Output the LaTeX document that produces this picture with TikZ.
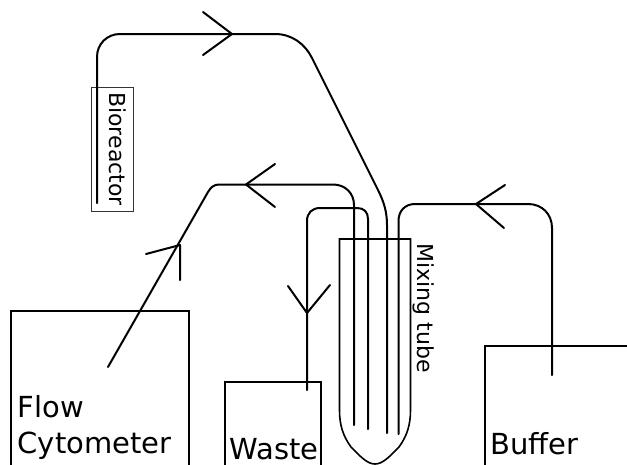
\documentclass[tikz,border=0pt]{standalone}
\usepackage{fontspec}
\setmainfont{DejaVu Sans}
\begin{document}
\begin{tikzpicture}[x=1pt,y=-1pt,
  pipe/.style={line width=2pt,line cap=round,line join=round},
  vessel/.style={draw,line width=1.6pt,minimum width=#1,inner sep=0pt,outer sep=0pt},
  lab/.style={font=\fontsize{29pt}{34pt}\selectfont,inner sep=0pt,anchor=base west},
  vlab/.style={font=\fontsize{22pt}{26pt}\selectfont,inner sep=0pt,rotate=-90}]
\useasboundingbox (0,0) rectangle (627,464);
\clip (0,0) rectangle (627,464);
\fill[white] (0,0) rectangle (627,464);
% vessels
\node[vessel=178pt,minimum height=190pt,anchor=north west] (cyto) at (11,311) {};
\node[vessel=96pt,minimum height=120pt,anchor=north west] (waste) at (225,382) {};
\node[vessel=180pt,minimum height=150pt,anchor=north west] (buffer) at (485,346) {};
\node[draw=black!80,line width=1pt,minimum width=42pt,minimum height=124pt,inner sep=0pt,anchor=north west] (bio) at (91,87) {};
\node[vlab] (biotext) at (118,149) {Bioreactor};
\node[vlab] (mixtext) at (424,308) {Mixing tube};
\node[lab] (flow) at (17.5,417) {Flow};
\node[lab] (cytotext) at (17.5,453) {Cytometer};
\node[lab] (wastetext) at (229.5,459.5) {Waste};
\node[lab] (buffertext) at (490,454) {Buffer};
% mixing tube
\coordinate (tl) at (339.5,239);
\coordinate (tr) at (410.5,239);
\coordinate (tip) at (375,464);
\draw[line width=1.6pt,line join=miter] (tip) .. controls (367,464) and (360,456) .. (351,447)
  .. controls (343,436) and (339.5,425) .. (339.5,410) -- (tl) -- (tr) -- (410.5,410)
  .. controls (410.5,425) and (407,436) .. (399,447) .. controls (390,456) and (383,464) .. (tip);
% line from bioreactor
\coordinate (a0) at (97,203);
\coordinate (a2) at (275,34);
\coordinate (a3) at (312,58);
\coordinate (a4) at (378,190);
\coordinate (a5) at (387,433);
\draw[pipe] (a0) -- (97,57) .. controls (97,44) and (107,34) .. (120,34) -- (a2)
  .. controls (292,34) and (305,44) .. (a3) -- (a4)
  .. controls (384,202) and (387,212) .. (387,225) -- (a5);
% line to cytometer
\coordinate (b0) at (354,425);
\coordinate (b1) at (108,367);
\draw[pipe] (b0) -- (354,205) .. controls (354,193) and (345,184.5) .. (333,184.5) -- (219,184.5)
  .. controls (214,184.5) and (211,187) .. (208,192) -- (b1);
% line to waste
\coordinate (c0) at (368,429);
\coordinate (c1) at (307,390);
\draw[pipe] (c0) -- (368,219) .. controls (368,212) and (364,208) .. (357,208) -- (320,208)
  .. controls (312,208) and (307,213) .. (307,221) -- (c1);
% line from buffer
\coordinate (d0) at (552,375);
\coordinate (d1) at (398.5,434);
\draw[pipe] (d0) -- (552,228) .. controls (552,214) and (542,204) .. (528,204) -- (415,204)
  .. controls (405,204) and (398.5,211) .. (398.5,221) -- (d1);
% barbs
\coordinate (h1) at (232,34);
\draw[pipe] (203,12) -- (h1) -- (203,55);
\coordinate (h2) at (246,184.5);
\draw[pipe] (275,164) -- (h2) -- (275,207);
\coordinate (h3) at (180,245);
\draw[pipe] (146,254) -- (h3) -- (180,280);
\coordinate (h4) at (307,313);
\draw[pipe] (288,286) -- (h4) -- (330,285);
\coordinate (h5) at (476,204);
\draw[pipe] (505,185) -- (h5) -- (504,228);
\end{tikzpicture}
\end{document}
